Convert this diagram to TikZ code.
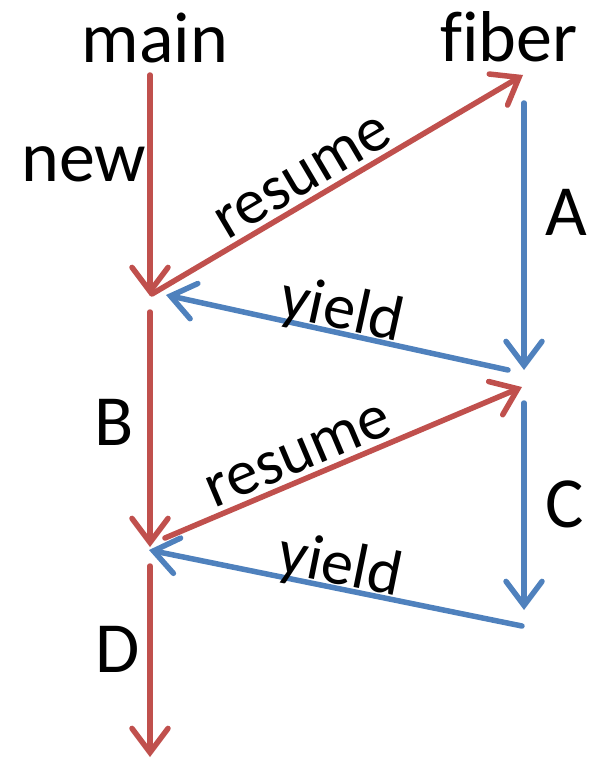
\documentclass[tikz,border=0pt]{standalone}
\usepackage{fontspec}
\setmainfont{Carlito}[Ligatures=NoCommon]
\usetikzlibrary{arrows.meta}
\definecolor{mainC}{RGB}{192,80,77}
\definecolor{fiberC}{RGB}{79,129,189}

\begin{document}
\begin{tikzpicture}[
  flow/.style={line width=5.5pt, line cap=round,
    -{Straight Barb[length=24pt, width=36pt, line cap=round]}},
  mainflow/.style={flow, draw=mainC},
  fiberflow/.style={flow, draw=fiberC},
  head/.style={font=\fontsize{72}{80}\selectfont, anchor=base, inner sep=0pt},
  tag/.style={font=\fontsize{72}{80}\selectfont, anchor=base, inner sep=0pt},
  call/.style={font=\fontsize{64}{70}\selectfont, sloped, anchor=base, inner sep=0pt},
  x=1pt, y=-1pt  % image pixel scale (599x762), y flipped
]
\useasboundingbox (0,0) rectangle (599,762);

% ---------- column heads ----------
\node[head] (mainhd) at (155,63) {main};
\node[head] (fiberhd) at (509,62) {fiber};

% ---------- end points of the flows ----------
\coordinate (m0) at (150,75);   \coordinate (m1) at (150,296);
\coordinate (m2) at (150,312);  \coordinate (m3) at (150,547);
\coordinate (m4) at (150,566);  \coordinate (m5) at (150,757);
\coordinate (r1) at (152,294);  \coordinate (y1) at (166,295);
\coordinate (r2) at (165,538);  \coordinate (y2) at (149,550);
\coordinate (f0) at (523,75);   \coordinate (f1) at (524,103);
\coordinate (f2) at (524,370);  \coordinate (f3) at (508,370);
\coordinate (f4) at (522,387);  \coordinate (f5) at (524,403);
\coordinate (f6) at (524,610);  \coordinate (f7) at (522,626);

% ============ main: red flows ============
\draw[mainflow] (m0) -- (m1);
\draw[mainflow] (m2) -- (m3);
\draw[mainflow] (m4) -- (m5);
\node[tag] (newlbl) at (84,182) {new};
\node[tag] (Blbl) at (114,445) {B};
\node[tag] (Dlbl) at (118,672) {D};

% ============ fiber: blue flows ============
\draw[fiberflow] (f1) -- (f2);
\draw[fiberflow] (f5) -- (f6);
\node[tag] (Albl) at (566,235) {A};
\node[tag] (Clbl) at (565,527) {C};

% ---------- switches between the two ----------
\draw[mainflow] (r1) -- node[call, pos=0.44, yshift=8pt] (res1) {resume} (f0);
\draw[fiberflow] (f3) -- node[call, pos=0.50, yshift=4pt] (yld1) {yield} (y1);
\draw[mainflow] (r2) -- node[call, pos=0.40, yshift=8pt] (res2) {resume} (f4);
\draw[fiberflow] (f7) -- node[call, pos=0.50, yshift=4pt] (yld2) {yield} (y2);

\end{tikzpicture}
\end{document}
